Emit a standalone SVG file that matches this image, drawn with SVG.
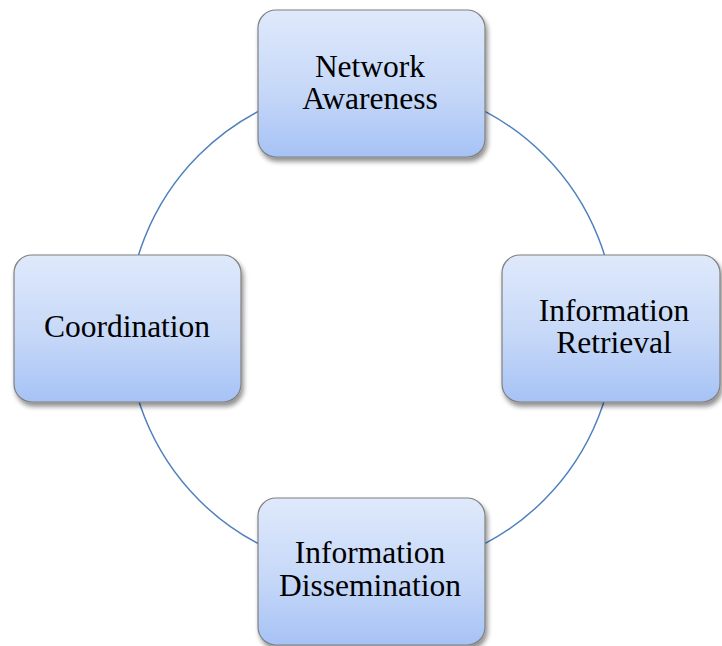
<svg xmlns="http://www.w3.org/2000/svg" width="722" height="646" viewBox="0 0 722 646">
  <defs>
    <linearGradient id="boxFill" x1="0" y1="0" x2="0" y2="1">
      <stop offset="0" stop-color="#dfe9fb"/>
      <stop offset="0.55" stop-color="#c6d8f8"/>
      <stop offset="1" stop-color="#a6c2f5"/>
    </linearGradient>
    <filter id="shadow" x="-10%" y="-10%" width="125%" height="125%">
      <feGaussianBlur in="SourceAlpha" stdDeviation="2.5"/>
      <feOffset dx="2" dy="4" result="blur"/>
      <feComponentTransfer><feFuncA type="linear" slope="0.45"/></feComponentTransfer>
      <feMerge><feMergeNode/><feMergeNode in="SourceGraphic"/></feMerge>
    </filter>
  </defs>
  <style>
    .box { fill: url(#boxFill); stroke: #808080; stroke-width: 1.2; filter: url(#shadow); }
    .label { font-family: "Liberation Serif", "Times New Roman", serif; font-size: 31.5px; fill: #000; text-anchor: middle; }
    .ring { fill: none; stroke: #4f81bd; stroke-width: 1.5; }
  </style>
  <rect width="722" height="646" fill="#ffffff"/>
  <g id="connectors">
    <circle class="ring" cx="371.5" cy="327.5" r="244"/>
  </g>
  <g id="network-awareness">
    <rect class="box" x="258" y="10" width="227" height="147" rx="18"/>
    <text class="label" x="370" y="77">Network</text>
    <text class="label" x="370" y="109">Awareness</text>
  </g>
  <g id="information-retrieval">
    <rect class="box" x="502" y="255" width="218" height="147" rx="18"/>
    <text class="label" x="614" y="321">Information</text>
    <text class="label" x="614" y="353">Retrieval</text>
  </g>
  <g id="information-dissemination">
    <rect class="box" x="258" y="498" width="227" height="147" rx="18"/>
    <text class="label" x="370" y="563">Information</text>
    <text class="label" x="370" y="596">Dissemination</text>
  </g>
  <g id="coordination">
    <rect class="box" x="14" y="255" width="227" height="147" rx="18"/>
    <text class="label" x="127" y="337">Coordination</text>
  </g>
</svg>
